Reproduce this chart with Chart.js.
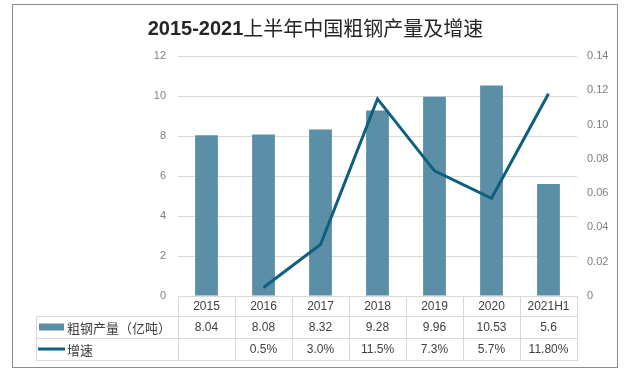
<!DOCTYPE html>
<html>
<head>
<meta charset="utf-8">
<script src="https://cdn.jsdelivr.net/npm/chart.js@4.4.0/dist/chart.umd.min.js"></script>
<style>
  html, body { margin: 0; padding: 0; background: #fff; }
  #box { position: relative; width: 627px; height: 373px; }
  #frame { position: absolute; left: 12px; top: 4px; width: 604px; height: 362px; border: 1px solid #8c8c8c; pointer-events: none; }
  canvas { position: absolute; left: 0; top: 0; }
</style>
</head>
<body>
<div id="box">
  <canvas id="chart" width="627" height="373"></canvas>
  <div id="frame"></div>
</div>
<script>
// data
const years = ['2015', '2016', '2017', '2018', '2019', '2020', '2021H1'];
const output = [8.04, 8.08, 8.32, 9.28, 9.96, 10.53, 5.6];
const growth = [null, 0.005, 0.03, 0.115, 0.073, 0.057, 0.118];
const growthText = ['', '0.5%', '3.0%', '11.5%', '7.3%', '5.7%', '11.80%'];
const seriesNames = ['粗钢产量（亿吨）', '增速'];
const titleParts = ['2015-2021', '上半年中国粗钢产量及增速'];

const barColor = '#5b8fa7';
const lineColor = '#0f5f7f';
const gridColor = '#d9d9d9';
const tableText = '#404040';
const latin = '"Liberation Sans", "Noto Sans CJK SC", sans-serif';
const cjk = '"Noto Sans CJK SC", sans-serif';

// title: bold digits, regular CJK, centred over the canvas
const splitTitle = {
    id: 'splitTitle',
    afterDraw(chart) {
        const ctx = chart.ctx;
        ctx.save();
        ctx.textBaseline = 'middle';
        ctx.textAlign = 'left';
        ctx.fillStyle = '#262626';
        const f1 = 'bold 20px ' + latin;
        const f2 = 'normal 20px ' + cjk;
        ctx.font = f1;
        const w1 = ctx.measureText(titleParts[0]).width;
        ctx.font = f2;
        const w2 = ctx.measureText(titleParts[1]).width;
        const x0 = (chart.width - w1 - w2) / 2 + 2;
        ctx.font = f1;
        ctx.fillText(titleParts[0], x0, 29);
        ctx.font = f2;
        ctx.fillText(titleParts[1], x0 + w1, 28);
        ctx.restore();
    }
};

// draws the data table under the plot, columns follow the x scale
const dataTable = {
    id: 'dataTable',
    afterDraw(chart) {
        const ctx = chart.ctx;
        const x = chart.scales.x;
        const area = chart.chartArea;
        const n = years.length;
        const w = (area.right - area.left) / n;
        const tableLeft = 36;
        const r0 = area.bottom, r1 = r0 + 20, r2 = r1 + 22, r3 = r2 + 22;

        ctx.save();
        ctx.strokeStyle = gridColor;
        ctx.lineWidth = 1;
        ctx.beginPath();
        for (let i = 0; i <= n; i++) {
            const px = Math.round(area.left + i * w) + 0.5;
            ctx.moveTo(px, r0);
            ctx.lineTo(px, r3);
        }
        ctx.moveTo(tableLeft + 0.5, r1);
        ctx.lineTo(tableLeft + 0.5, r3);
        [r1, r2, r3].forEach(function (r) {
            ctx.moveTo(tableLeft, Math.round(r) + 0.5);
            ctx.lineTo(area.right + 1, Math.round(r) + 0.5);
        });
        ctx.stroke();

        ctx.fillStyle = tableText;
        ctx.font = '12px ' + latin;
        ctx.textAlign = 'center';
        ctx.textBaseline = 'middle';
        for (let i = 0; i < n; i++) {
            const cx = x.getPixelForValue(i);
            ctx.fillText(String(output[i]), cx, (r1 + r2) / 2 + 1);
            ctx.fillText(growthText[i], cx, (r2 + r3) / 2 + 1);
        }

        // legend keys
        ctx.fillStyle = barColor;
        ctx.fillRect(39, (r1 + r2) / 2 - 3.5, 25, 7);
        ctx.strokeStyle = lineColor;
        ctx.lineWidth = 3;
        ctx.beginPath();
        ctx.moveTo(38, (r2 + r3) / 2);
        ctx.lineTo(65, (r2 + r3) / 2);
        ctx.stroke();

        ctx.fillStyle = tableText;
        ctx.textAlign = 'left';
        ctx.font = '13px ' + cjk;
        ctx.fillText(seriesNames[0], 67, (r1 + r2) / 2 + 1);
        ctx.fillText(seriesNames[1], 67, (r2 + r3) / 2 + 1);
        ctx.restore();
    }
};

new Chart(document.getElementById('chart'), {
    data: {
        labels: years,
        datasets: [
            {
                type: 'line',
                label: seriesNames[1],
                data: growth,
                yAxisID: 'y1',
                borderColor: lineColor,
                backgroundColor: lineColor,
                borderWidth: 3,
                pointRadius: 0,
                tension: 0,
                order: 0
            },
            {
                type: 'bar',
                label: seriesNames[0],
                data: output,
                yAxisID: 'y',
                backgroundColor: barColor,
                categoryPercentage: 1,
                barPercentage: 0.4,
                order: 1
            }
        ]
    },
    options: {
        responsive: false,
        animation: false,
        layout: { padding: { left: 0, right: 0, top: 56, bottom: 0 } },
        plugins: {
            legend: { display: false },
            tooltip: { enabled: false },
            title: { display: false }
        },
        scales: {
            x: {
                grid: { display: false, drawTicks: false },
                border: { display: true, color: gridColor },
                ticks: { color: tableText, font: { size: 12, family: latin }, padding: 3, maxRotation: 0 },
                afterFit: function (s) { s.height = 77; }
            },
            y: {
                position: 'left',
                min: 0,
                max: 12,
                grid: { color: gridColor, drawTicks: false },
                border: { display: false },
                ticks: { stepSize: 2, color: '#7f7f7f', font: { size: 11, family: latin }, padding: 12 },
                afterFit: function (s) { s.width = 178; }
            },
            y1: {
                position: 'right',
                min: 0,
                max: 0.14,
                grid: { drawOnChartArea: false, drawTicks: false },
                border: { display: false },
                ticks: { stepSize: 0.02, color: '#7f7f7f', font: { size: 11, family: latin }, padding: 10 },
                afterFit: function (s) { s.width = 50; }
            }
        }
    },
    plugins: [dataTable, splitTitle]
});
</script>
</body>
</html>
